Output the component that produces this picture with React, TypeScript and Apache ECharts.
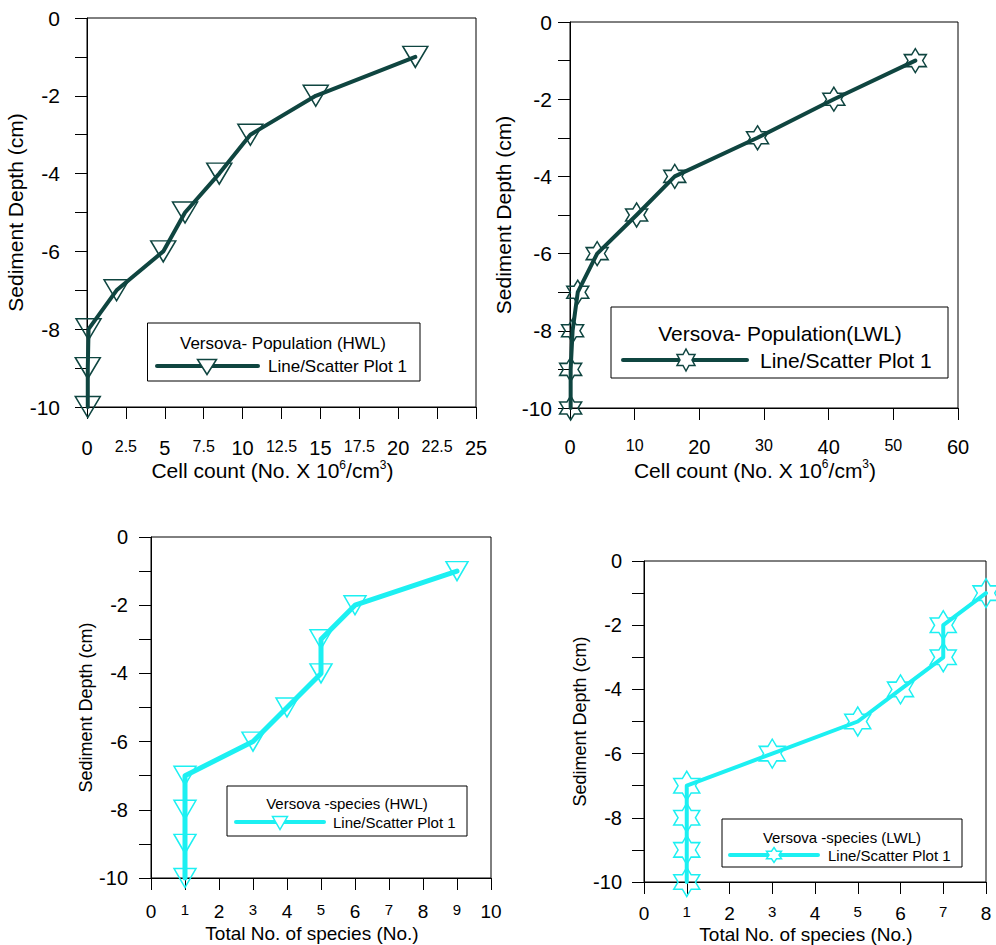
import React, { useEffect, useRef } from "react";
import * as echarts from "echarts";

// ---------------- data ----------------
const depth = [-1, -2, -3, -4, -5, -6, -7, -8, -9, -10];
const hwlCellCount = [21.1, 14.7, 10.5, 8.5, 6.3, 4.9, 1.9, 0.1, 0.05, 0.05];
const lwlCellCount = [53.4, 40.8, 29.0, 16.2, 10.3, 4.2, 1.2, 0.4, 0.1, 0.1];
const hwlSpecies = [9, 6, 5, 5, 4, 3, 1, 1, 1, 1];
const lwlSpecies = [8, 7, 7, 6, 5, 3, 1, 1, 1, 1];

const legendTitles = [
  "Versova- Population (HWL)",
  "Versova- Population(LWL)",
  "Versova -species (HWL)",
  "Versova -species (LWL)",
];
const seriesName = "Line/Scatter Plot 1";
const yAxisTitle = "Sediment Depth (cm)";
const cellAxisTitle = "Cell count (No. X 10{sup|6}/cm{sup|3})";
const speciesAxisTitle = "Total No. of species (No.)";

// axis ranges: [min, max, interval, big-label step]
const depthAxis = [-10, 0, 1, 2];
const hwlCellAxis = [0, 25, 2.5, 5];
const lwlCellAxis = [0, 60, 10, 20];
const hwlSpeciesAxis = [0, 10, 1, 2];
const lwlSpeciesAxis = [0, 8, 1, 2];

// ---------------- styles ----------------
const FONT = '"Liberation Sans", Arial, sans-serif';
const DARK = "#0f4540";
const CYAN = "#1cf0f2";
const HEX_PATH =
  "path://M100 0L128.87 50L186.6 50L157.74 100L186.6 150L128.87 150L100 200L71.13 150L13.4 150L42.26 100L13.4 50L71.13 50Z";

const panels = [
  {
    xs: hwlCellCount, xAxisDef: hwlCellAxis, xName: cellAxisTitle, title: legendTitles[0],
    grid: { left: 87, top: 18, width: 389, height: 389 },
    color: DARK, marker: "tri", symbolSize: [25, 21], lineWidth: 4,
    yLabelSize: 21, yLabelMargin: 27, xBig: 20, xSmall: 16, xLabelMargin: 31,
    xNameSize: 21, xNameGap: 51, yNameSize: 21, yNameGap: 54,
    legend: { x: 147.5, y: 323, w: 272.5, h: 58, tx: 283, ty: 343, ry: 366, l1: 157, l2: 258, mx: 207, mw: 19, mh: 15, lx: 268, fs: 17 },
  },
  {
    xs: lwlCellCount, xAxisDef: lwlCellAxis, xName: cellAxisTitle, title: legendTitles[1],
    grid: { left: 570, top: 22, width: 388, height: 386 },
    color: DARK, marker: "hex", symbolSize: [22, 24], lineWidth: 4,
    yLabelSize: 21, yLabelMargin: 18, xBig: 20, xSmall: 16, xLabelMargin: 29,
    xNameSize: 21, xNameGap: 50, yNameSize: 21, yNameGap: 56,
    legend: { x: 611, y: 307, w: 337, h: 71, tx: 780, ty: 333, ry: 360, l1: 623, l2: 747, mx: 686, mw: 18, mh: 22, lx: 760, fs: 21 },
  },
  {
    xs: hwlSpecies, xAxisDef: hwlSpeciesAxis, xName: speciesAxisTitle, title: legendTitles[2],
    grid: { left: 151, top: 537, width: 340, height: 341 },
    color: CYAN, marker: "tri", symbolSize: [22, 19], lineWidth: 5,
    yLabelSize: 20, yLabelMargin: 23, xBig: 19, xSmall: 15, xLabelMargin: 24,
    xNameSize: 19, xNameGap: 44, yNameSize: 18, yNameGap: 49,
    legend: { x: 227, y: 786, w: 240, h: 50, tx: 347, ty: 803, ry: 822, l1: 236, l2: 324, mx: 280, mw: 15, mh: 13, lx: 333, fs: 15 },
  },
  {
    xs: lwlSpecies, xAxisDef: lwlSpeciesAxis, xName: speciesAxisTitle, title: legendTitles[3],
    grid: { left: 644, top: 561, width: 342, height: 321 },
    color: CYAN, marker: "hex", symbolSize: [26, 29], lineWidth: 4,
    yLabelSize: 20, yLabelMargin: 22, xBig: 19, xSmall: 15, xLabelMargin: 22,
    xNameSize: 19, xNameGap: 41, yNameSize: 18, yNameGap: 47,
    legend: { x: 722, y: 819, w: 240, h: 48, tx: 842, ty: 837, ry: 855, l1: 730, l2: 818, mx: 774, mw: 15, mh: 15, lx: 828, fs: 15 },
  },
];

function hexPoints(cx: number, cy: number, w: number, h: number) {
  const raw = [
    [0, -1], [0.2887, -0.5], [0.866, -0.5], [0.5774, 0], [0.866, 0.5], [0.2887, 0.5],
    [0, 1], [-0.2887, 0.5], [-0.866, 0.5], [-0.5774, 0], [-0.866, -0.5], [-0.2887, -0.5],
  ];
  return raw.map(([x, y]) => [cx + (x / 0.866) * (w / 2), cy + y * (h / 2)]);
}

function triPoints(cx: number, cy: number, w: number, h: number) {
  return [
    [cx - w / 2, cy - h / 2],
    [cx + w / 2, cy - h / 2],
    [cx, cy + h / 2],
  ];
}

function buildOption() {
  const grids: any[] = [];
  const xAxes: any[] = [];
  const yAxes: any[] = [];
  const series: any[] = [];
  const graphics: any[] = [];

  panels.forEach((p, i) => {
    grids.push({
      ...p.grid,
      show: true,
      borderColor: "#000",
      borderWidth: 1,
      backgroundColor: "transparent",
      containLabel: false,
      outerBoundsMode: "none",
    });
    const [xmin, xmax, xint, bigStep] = p.xAxisDef;
    xAxes.push({
      type: "value",
      gridIndex: i,
      min: xmin,
      max: xmax,
      interval: xint,
      splitLine: { show: false },
      axisLine: { show: true, onZero: false, lineStyle: { color: "#000", width: 1 } },
      axisTick: { show: true, inside: false, length: 12, lineStyle: { color: "#000", width: 1 } },
      axisLabel: {
        show: true,
        margin: p.xLabelMargin,
        color: "#000",
        fontFamily: FONT,
        showMinLabel: true,
        showMaxLabel: true,
        hideOverlap: false,
        formatter: (v: number) => {
          const r = v / bigStep;
          const big = Math.abs(r - Math.round(r)) < 1e-6;
          return big ? `{b|${v}}` : `{s|${v}}`;
        },
        rich: {
          b: { fontSize: p.xBig, fontFamily: FONT, color: "#000" },
          s: { fontSize: p.xSmall, fontFamily: FONT, color: "#000" },
        },
      },
      name: p.xName,
      nameLocation: "middle",
      nameGap: p.xNameGap,
      nameTextStyle: {
        fontSize: p.xNameSize,
        fontFamily: FONT,
        color: "#000",
        lineHeight: p.xNameSize + 3,
        padding: [0, 18, 0, 0],
        rich: {
          sup: { fontSize: Math.round(p.xNameSize * 0.58), fontFamily: FONT, color: "#000", verticalAlign: "top", lineHeight: 12 },
        },
      },
    });
    const [ymin, ymax, yint, yStep] = depthAxis;
    yAxes.push({
      type: "value",
      gridIndex: i,
      min: ymin,
      max: ymax,
      interval: yint,
      splitLine: { show: false },
      axisLine: { show: true, onZero: false, lineStyle: { color: "#000", width: 1 } },
      axisTick: { show: true, inside: false, length: 12, lineStyle: { color: "#000", width: 1 } },
      axisLabel: {
        show: true,
        margin: p.yLabelMargin,
        color: "#000",
        fontSize: p.yLabelSize,
        fontFamily: FONT,
        showMinLabel: true,
        showMaxLabel: true,
        formatter: (v: number) => (Math.abs(v % yStep) < 1e-6 ? String(v) : ""),
      },
      name: yAxisTitle,
      nameLocation: "middle",
      nameRotate: 90,
      nameGap: p.yNameGap,
      nameTextStyle: { fontSize: p.yNameSize, fontFamily: FONT, color: "#000" },
    });
    series.push({
      type: "line",
      name: seriesName,
      xAxisIndex: i,
      yAxisIndex: i,
      data: p.xs.map((x, k) => [x, depth[k]]),
      symbol: p.marker === "tri" ? "triangle" : HEX_PATH,
      symbolRotate: p.marker === "tri" ? 180 : 0,
      symbolSize: p.symbolSize,
      showSymbol: true,
      showAllSymbol: true,
      clip: false,
      lineStyle: { color: p.color, width: p.lineWidth, cap: "round", join: "round" },
      itemStyle: { color: "rgba(255,255,255,0)", borderColor: p.color, borderWidth: 1.5 },
      emphasis: { disabled: true },
      silent: true,
    });

    const L = p.legend;
    graphics.push({
      type: "rect",
      z: 100,
      shape: { x: L.x, y: L.y, width: L.w, height: L.h },
      style: { fill: "#fff", stroke: "#000", lineWidth: 1 },
    });
    graphics.push({
      type: "text",
      z: 101,
      style: {
        text: p.title,
        x: L.tx,
        y: L.ty,
        fill: "#000",
        font: `${L.fs}px ${FONT}`,
        align: "center",
        verticalAlign: "middle",
        textAlign: "center",
        textVerticalAlign: "middle",
      },
    });
    graphics.push({
      type: "line",
      z: 101,
      shape: { x1: L.l1, y1: L.ry, x2: L.l2, y2: L.ry },
      style: { stroke: p.color, lineWidth: 4, lineCap: "round" },
    });
    graphics.push({
      type: "polygon",
      z: 102,
      shape: {
        points: p.marker === "tri" ? triPoints(L.mx, L.ry + 1, L.mw, L.mh) : hexPoints(L.mx, L.ry, L.mw, L.mh),
      },
      style: { fill: "#fff", stroke: p.color, lineWidth: 1.5 },
    });
    graphics.push({
      type: "text",
      z: 101,
      style: {
        text: seriesName,
        x: L.lx,
        y: L.ry,
        fill: "#000",
        font: `${L.fs}px ${FONT}`,
        align: "left",
        verticalAlign: "middle",
        textAlign: "left",
        textVerticalAlign: "middle",
      },
    });
  });

  return {
    animation: false,
    backgroundColor: "#fff",
    textStyle: { fontFamily: FONT },
    grid: grids,
    xAxis: xAxes,
    yAxis: yAxes,
    series,
    graphic: { elements: graphics },
  };
}

export default function App() {
  const ref = useRef<HTMLDivElement>(null);
  useEffect(() => {
    if (!ref.current) return;
    const chart = echarts.init(ref.current, undefined, { renderer: "svg" });
    chart.setOption(buildOption() as any);
    return () => chart.dispose();
  }, []);
  return (
    <div
      ref={ref}
      style={{ position: "fixed", left: 0, top: 0, width: 996, height: 945, background: "#fff" }}
    />
  );
}
